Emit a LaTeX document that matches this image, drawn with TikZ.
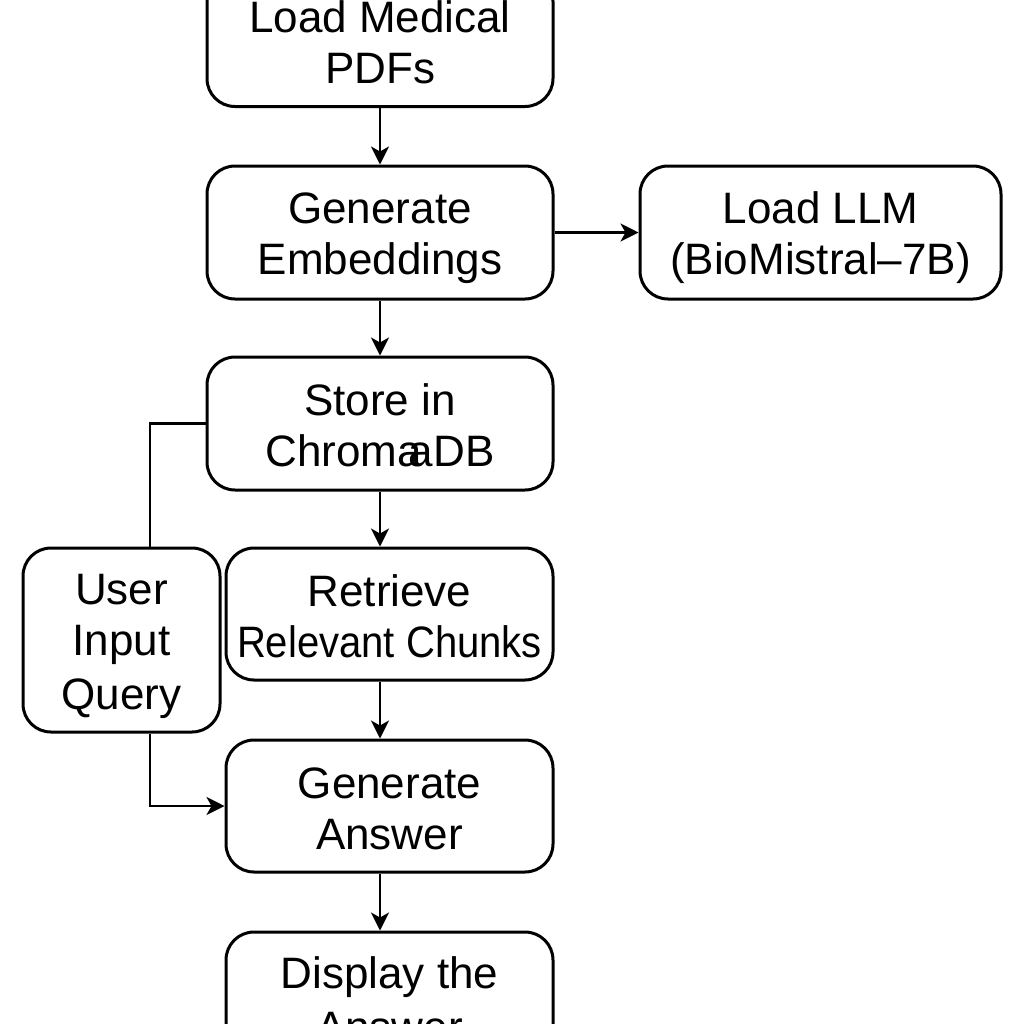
\documentclass[tikz,border=0pt]{standalone}
\usepackage{fontspec}
\setmainfont{Liberation Sans}
\usetikzlibrary{arrows.meta}
\newcommand{\mystrut}{\rule[-4pt]{0pt}{25.5pt}}
\tikzset{
  box/.style={draw, line width=1.5pt, rounded corners=14pt, align=center, inner sep=0pt,
    font=\fontsize{22}{25.5}\selectfont},
  link/.style={line width=1.3pt},
  arr/.style={link, -{Stealth[length=9pt,width=9pt,inset=2.5pt]}}
}
\begin{document}
\begin{tikzpicture}[x=0.5pt,y=-0.5pt]
\useasboundingbox (0,0) rectangle (1024,1024);
\clip (0,0) rectangle (1024,1024);
\fill[white] (0,0) rectangle (1024,1024);
\node[box, minimum width=173pt, minimum height=66.5pt] (A) at (380,40) {\mystrut Load Medical\\PDFs\mystrut};
\node[box, minimum width=173pt, minimum height=66.5pt] (B) at (380,232.5) {\mystrut Generate\\Embeddings\mystrut};
\node[box, minimum width=180.5pt, minimum height=66.5pt] (C) at (820.5,232.5) {\mystrut Load LLM\\(BioMistral–7B)\mystrut};
\node[box, minimum width=173pt, minimum height=66.5pt] (D) at (380,423.5) {\mystrut Store in\\Chroma\kern-0.3em aDB\mystrut};
\node[box, minimum width=98.5pt, minimum height=92pt] (E) at (121.5,640) {\mystrut User\\Input\\Query\mystrut};
\node[box, minimum width=163.5pt, minimum height=66pt] (F) at (389.5,614) {\mystrut Retrieve\\\scalebox{0.91}[1]{Relevant Chunks}\mystrut};
\node[box, minimum width=163.5pt, minimum height=66pt] (G) at (389.5,806) {\mystrut Generate\\Answer\mystrut};
\node[box, minimum width=163.5pt, minimum height=66pt] (H) at (389.5,998) {\mystrut Display the\\Answer\mystrut};
\coordinate (ax) at (380,0);
\coordinate (lx) at (150,0);
\draw[arr] (A) -- (B);
\draw[arr] (B) -- (C);
\draw[arr] (B) -- (D);
\draw[arr] (D.south) -- (F.north -| ax);
\draw[arr] (F.south -| ax) -- (G.north -| ax);
\draw[arr] (G.south -| ax) -- (H.north -| ax);
\draw[link] (D.west) -| (E.north -| lx);
\draw[arr] (E.south -| lx) |- (G.west);
\end{tikzpicture}
\end{document}
